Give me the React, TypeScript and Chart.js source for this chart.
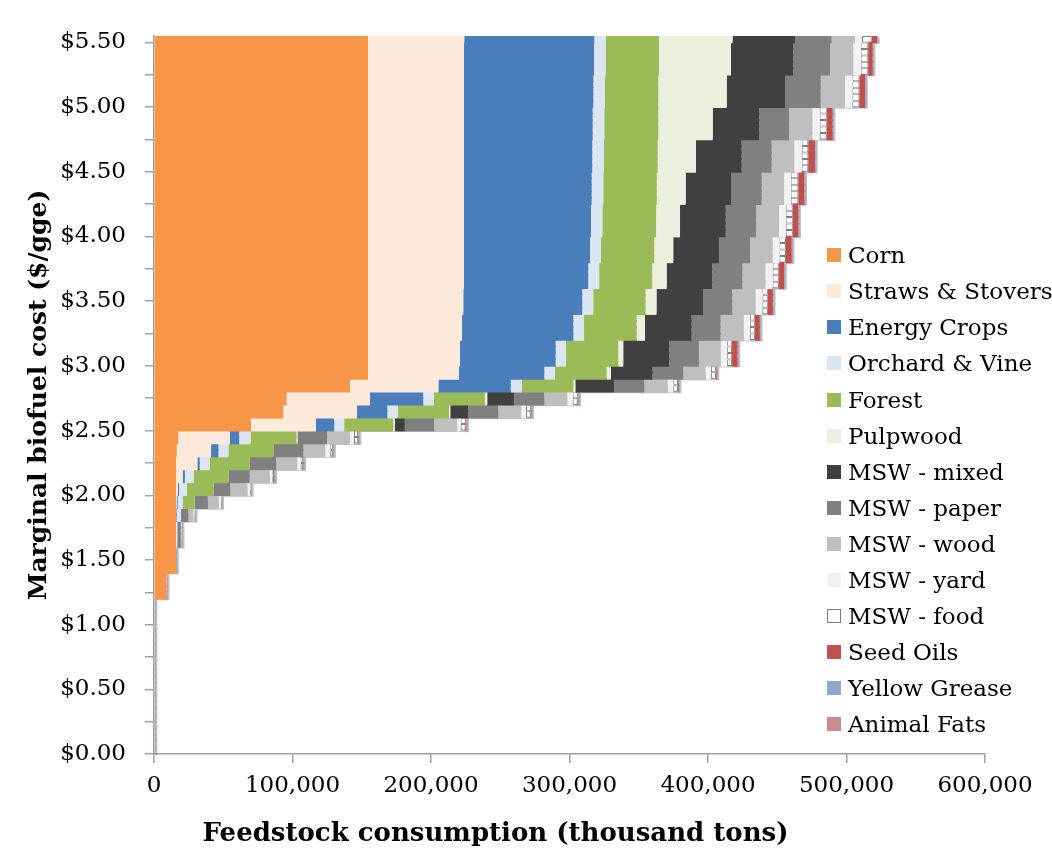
import React, { useEffect, useRef } from 'react';
import { Chart, registerables } from 'chart.js';

Chart.register(...registerables);

// ---------- DATA (thousand tons, read per price band) ----------
const categories = [
  'Corn', 'Straws & Stovers', 'Energy Crops', 'Orchard & Vine', 'Forest', 'Pulpwood',
  'MSW - mixed', 'MSW - paper', 'MSW - wood', 'MSW - yard', 'MSW - food',
  'Seed Oils', 'Yellow Grease', 'Animal Fats',
];
const colors = [
  '#F79646', '#FDEADA', '#4A7EBB', '#DCE6F2', '#9BBB59', '#EBF1DE',
  '#404040', '#808080', '#BFBFBF', '#F2F2F2', '#FFFFFF',
  '#C0504D', '#8EA8D0', '#C98B8D',
];

// lower bound of each price band ($/gge); a band ends where the band above begins
const bandLow = [5.5, 5.25, 5.0, 4.75, 4.5, 4.25, 4.0, 3.8, 3.6, 3.4, 3.2, 3.0, 2.9, 2.8, 2.7, 2.6, 2.5, 2.4, 2.3, 2.2, 2.1, 2.0, 1.9, 1.8, 1.6, 1.4, 1.2, 0.0];
const priceTop = 5.55;
const priceStep = 0.05;

const corn = [154500, 154500, 154500, 154500, 154500, 154500, 154500, 154500, 154500, 154500, 154500, 154500, 154500, 141500, 95800, 93400, 70000, 17500, 16400, 15900, 15900, 15900, 15900, 15900, 15900, 15900, 9200, 0];
const straws = [69500, 69300, 69300, 69300, 69300, 69300, 69300, 69300, 69300, 68800, 67900, 66400, 65700, 63800, 60100, 53200, 46900, 37300, 24800, 15400, 4800, 1200, 400, 0, 0, 0, 0, 0];
const energy = [93900, 93900, 93400, 92900, 92600, 92200, 91700, 91000, 89700, 85900, 80400, 69100, 61600, 52300, 38500, 21900, 13200, 6700, 5300, 1700, 1600, 1000, 800, 400, 0, 0, 0, 0];
const orchard = [8200, 8400, 8400, 8400, 8400, 8400, 8200, 7900, 7900, 7900, 7700, 7400, 7700, 7900, 7700, 7500, 7200, 8200, 7200, 7200, 6300, 5600, 3800, 3000, 900, 0, 0, 0];
const forest = [38500, 38500, 38500, 39000, 38800, 38600, 38800, 38500, 38300, 37800, 38000, 37800, 37300, 37300, 36800, 37000, 35400, 33200, 32500, 28700, 25300, 19200, 8400, 0, 0, 0, 0, 0];
const pulpwood = [53200, 52000, 49400, 39300, 27700, 20900, 17300, 13700, 10400, 7900, 6000, 3600, 3100, 1400, 1700, 900, 1200, 700, 0, 0, 0, 0, 0, 0, 0, 0, 0, 0];
const mswMixed = [45000, 45000, 42100, 33600, 33000, 32700, 33000, 33000, 32900, 33600, 33700, 33200, 30100, 27900, 19300, 13000, 7200, 0, 0, 0, 0, 0, 0, 0, 0, 0, 0, 0];
const mswPaper = [26500, 26500, 25800, 21600, 21700, 22200, 21900, 22400, 21900, 21200, 20900, 21400, 22100, 21900, 21900, 21700, 21200, 21400, 21700, 19300, 15200, 12100, 9600, 5500, 2500, 0, 0, 0];
const mswWood = [16800, 16800, 17500, 16800, 16300, 16100, 16600, 16400, 16600, 16800, 16800, 15900, 16200, 16900, 16600, 16400, 16600, 16400, 15700, 15200, 14400, 12500, 7900, 3600, 700, 0, 0, 0];
const mswYard = [5100, 5300, 5300, 5200, 5300, 4800, 4800, 4800, 5100, 4800, 4300, 4500, 3800, 4000, 3900, 3600, 2500, 3000, 3600, 2400, 1900, 1900, 1400, 700, 0, 0, 0, 0];
const mswFood = [7000, 5500, 5100, 5100, 4800, 5500, 5100, 4800, 4500, 4000, 3600, 3600, 3600, 3400, 3600, 3400, 3600, 3000, 1900, 1900, 1400, 500, 400, 300, 0, 0, 0, 0];
const seedOils = [3800, 3200, 4100, 4300, 4800, 4300, 4000, 4100, 3800, 3600, 3600, 3900, 500, 500, 400, 400, 400, 300, 200, 200, 200, 0, 0, 0, 0, 0, 0, 0];
const yellowGrease = [600, 600, 600, 600, 600, 600, 600, 600, 600, 600, 600, 600, 600, 600, 600, 600, 600, 600, 600, 600, 600, 600, 600, 600, 600, 600, 600, 800];
const animalFats = [300, 300, 300, 300, 300, 300, 300, 300, 300, 300, 300, 300, 300, 300, 300, 300, 300, 300, 300, 300, 300, 300, 300, 300, 300, 300, 300, 500];

const series = [corn, straws, energy, orchard, forest, pulpwood, mswMixed, mswPaper, mswWood, mswYard, mswFood, seedOils, yellowGrease, animalFats];

const yTicksStep = 0.25;
const xMax = 600000;
const xStep = 100000;
const yTitle = 'Marginal biofuel cost ($/gge)';
const xTitle = 'Feedstock consumption (thousand tons)';

// one bar per $0.05 price step, each carrying its band's values
type Row = { y: number; band: number; cents: number };
const rows: Row[] = [];
for (let b = 0; b < bandLow.length; b++) {
  const hi = b === 0 ? priceTop : bandLow[b - 1];
  const c0 = Math.round(bandLow[b] * 100);
  const c1 = Math.round(hi * 100);
  const sc = Math.round(priceStep * 100);
  for (let c = c0; c < c1; c += sc) {
    rows.push({ y: (c + sc / 2) / 100, band: b, cents: c });
  }
}
const bandTotal = (b: number) => series.reduce((s, arr) => s + arr[b], 0);

const FONT = '"DejaVu Serif", "Liberation Serif", serif';

// soft drop shadow on the right/bottom step edges of each stacked row
const shadowPlugin = {
  id: 'stackShadow',
  beforeDatasetsDraw(chart: any) {
    const { ctx, chartArea, scales } = chart;
    const xs = scales.x;
    const ys = scales.y;
    const totalByCents = new Map<number, number>();
    rows.forEach((r) => totalByCents.set(r.cents, bandTotal(r.band)));
    const x0 = xs.getPixelForValue(0);
    ctx.save();
    ctx.beginPath();
    ctx.rect(chartArea.left, chartArea.top, chartArea.width + 4, chartArea.height + 4);
    ctx.clip();
    ctx.fillStyle = 'rgba(0,0,0,0.25)';
    rows.forEach((r) => {
      const total = totalByCents.get(r.cents) || 0;
      if (!total) return;
      const below = totalByCents.get(r.cents - Math.round(priceStep * 100)) || 0;
      const x1 = xs.getPixelForValue(total);
      const xb = Math.max(Math.min(xs.getPixelForValue(below), x1) - 2, x0);
      const yt = ys.getPixelForValue(r.y + priceStep / 2);
      const yb = ys.getPixelForValue(r.y - priceStep / 2);
      ctx.fillRect(xb + 1.5, yt + 1.5, x1 - xb, yb - yt);
    });
    ctx.restore();
  },
};

const xTitlePlugin = {
  id: 'xTitleText',
  afterDraw(chart: any) {
    const { ctx, chartArea } = chart;
    ctx.save();
    ctx.font = 'bold 26px ' + FONT;
    ctx.fillStyle = '#000';
    ctx.textAlign = 'center';
    ctx.textBaseline = 'middle';
    ctx.fillText(xTitle, chartArea.left + chartArea.width * 0.411, chartArea.bottom + 80);
    ctx.restore();
  },
};

export default function App() {
  const ref = useRef<HTMLCanvasElement>(null);

  useEffect(() => {
    if (!ref.current) return;
    const datasets = series.map((arr, k) => ({
      label: categories[k],
      data: rows.map((r) => ({ x: arr[r.band], y: r.y })),
      backgroundColor: colors[k],
      borderColor: '#7F7F7F',
      borderWidth: k === 10 ? 1 : 0,
      borderSkipped: false as const,
      categoryPercentage: 1,
      barPercentage: k === 10 ? 1 : 1.25,
      inflateAmount: 0,
    }));

    const chart = new Chart(ref.current, {
      type: 'bar',
      data: { datasets },
      plugins: [shadowPlugin, xTitlePlugin],
      options: {
        indexAxis: 'y',
        animation: false,
        responsive: false,
        devicePixelRatio: 1,
        layout: { padding: { left: 0, right: 67, top: 36, bottom: 0 } },
        plugins: {
          legend: { display: false },
          tooltip: { enabled: false },
        },
        scales: {
          x: {
            type: 'linear',
            stacked: true,
            min: 0,
            max: xMax,
            afterFit: (s: any) => { s.height = 98; },
            border: { display: true, color: '#A0A0A0', width: 1.5 },
            grid: { display: true, drawOnChartArea: false, drawTicks: true, tickLength: 9, color: '#A0A0A0', lineWidth: 1.5 },
            ticks: {
              stepSize: xStep,
              padding: 9,
              color: '#000',
              font: { family: FONT, size: 23 },
              callback: (v: any) => Number(v).toLocaleString('en-US'),
            },
          },
          y: {
            type: 'linear',
            stacked: true,
            min: 0,
            max: priceTop,
            offset: false,
            afterFit: (s: any) => { s.width = 154; },
            border: { display: true, color: '#A0A0A0', width: 1.5 },
            grid: { display: true, offset: false, drawOnChartArea: false, drawTicks: true, tickLength: 9, color: '#A0A0A0', lineWidth: 1.5 },
            ticks: {
              stepSize: yTicksStep,
              includeBounds: false,
              autoSkip: false,
              padding: 19,
              color: '#000',
              font: { family: FONT, size: 23 },
              callback: (v: any) => (Math.round(Number(v) * 100) % 50 === 0 ? '$' + Number(v).toFixed(2) : ''),
            },
            title: {
              display: true,
              text: yTitle,
              color: '#000',
              font: { family: FONT, size: 25, weight: 'bold' },
              padding: { top: 24, bottom: 0 },
            },
          },
        },
      } as any,
    });
    return () => chart.destroy();
  }, []);

  return (
    <div style={{ position: 'absolute', left: 0, top: 0, width: 1052, height: 852, background: '#fff', overflow: 'hidden' }}>
      <canvas ref={ref} width={1052} height={852} style={{ display: 'block', width: 1052, height: 852 }} />
      <div style={{ position: 'absolute', left: 827, top: 237.3, fontFamily: FONT, fontSize: 23, color: '#000' }}>
        {categories.map((c, i) => (
          <div key={c} style={{ height: 36.05, display: 'flex', alignItems: 'center', whiteSpace: 'nowrap' }}>
            <span style={{ display: 'inline-block', width: 14, height: 14, boxSizing: 'border-box', background: colors[i], border: i === 10 ? '1px solid #7F7F7F' : 'none', marginRight: 7, flex: 'none' }} />
            <span>{c}</span>
          </div>
        ))}
      </div>
    </div>
  );
}
